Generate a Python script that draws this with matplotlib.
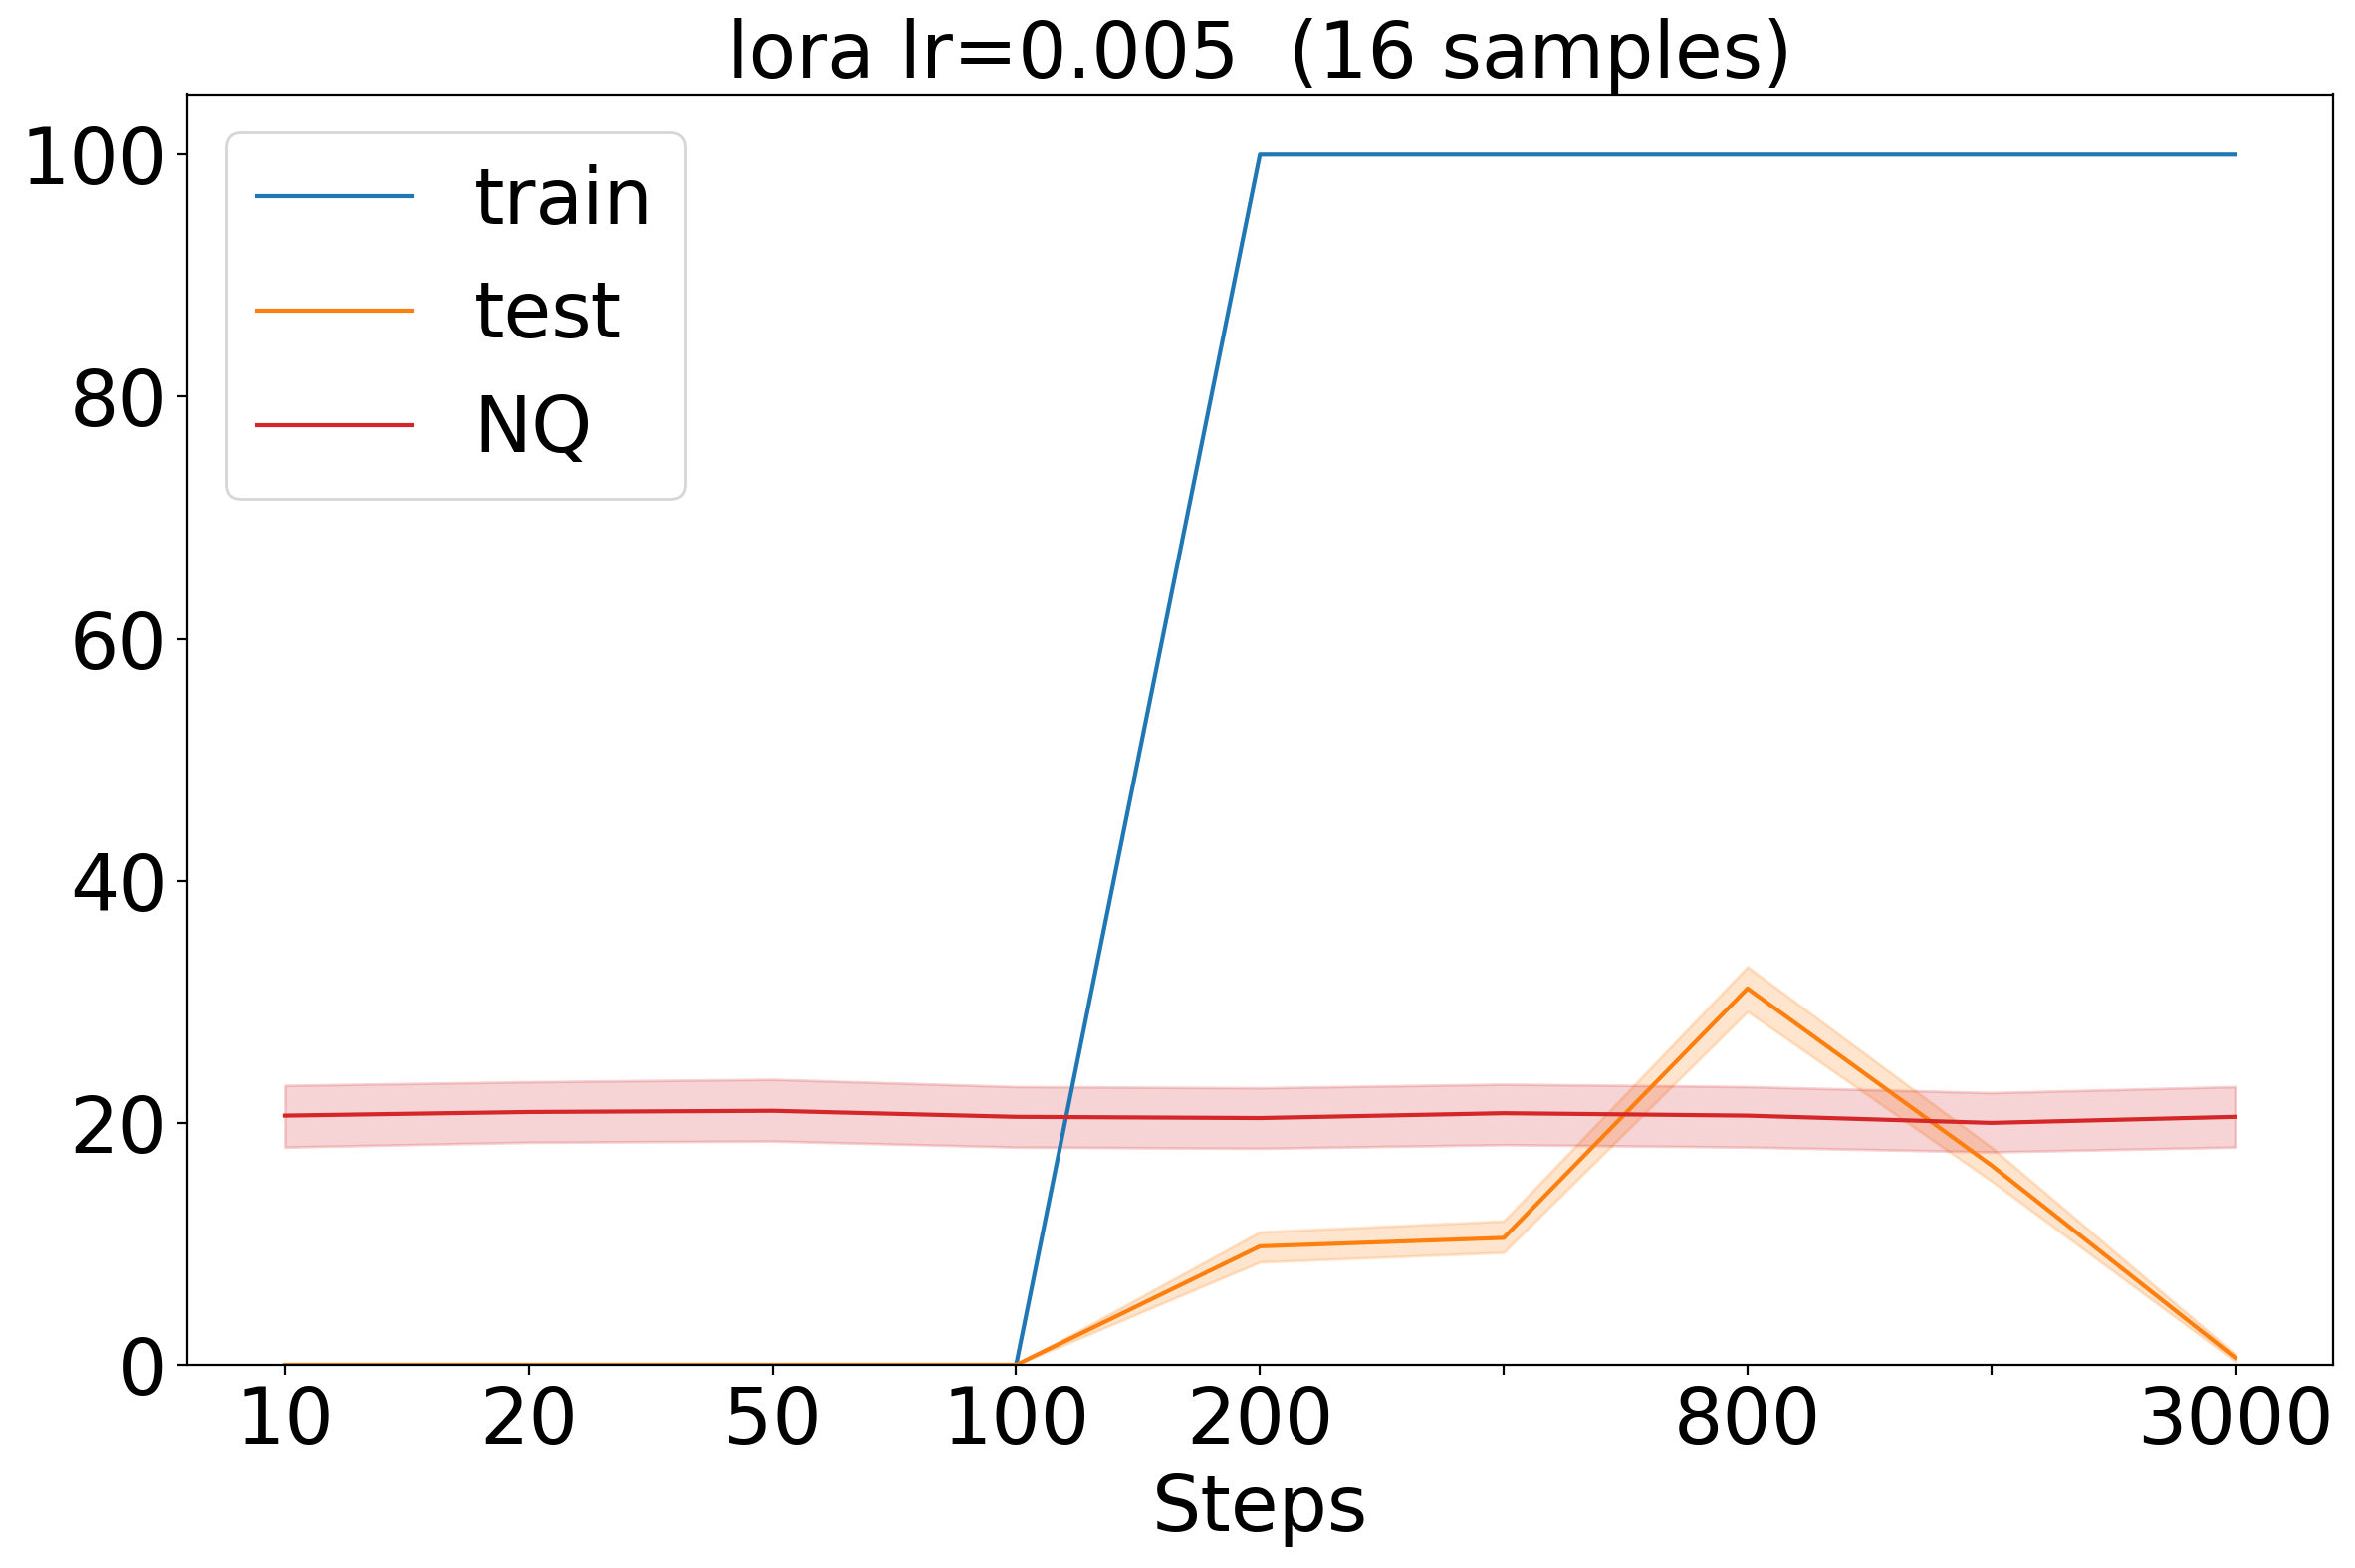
import matplotlib
matplotlib.use("Agg")
import matplotlib.pyplot as plt
import numpy as np

steps_labels = ["10", "20", "50", "100", "200", "", "800", "", "3000"]
train_mean = [0, 0, 0, 0, 100, 100, 100, 100, 100]
test_mean = [0, 0, 0, 0, 9.8, 10.5, 31.1, 16.5, 0.6]
test_low = [0, 0, 0, 0, 8.5, 9.3, 29.2, 15.2, 0.3]
test_high = [0, 0, 0, 0, 11.0, 11.9, 32.9, 18.0, 0.9]
nq_mean = [20.6, 20.9, 21.0, 20.5, 20.4, 20.8, 20.6, 20.0, 20.5]
nq_low = [18.0, 18.4, 18.5, 18.0, 17.9, 18.2, 18.0, 17.6, 18.0]
nq_high = [23.1, 23.4, 23.6, 23.0, 22.9, 23.2, 23.0, 22.5, 23.0]

fs = 28
fig = plt.figure(figsize=(2365/200, 1575/200), dpi=200)
ax = fig.add_axes([0.0795, 0.1295, 0.911, 0.8105])
x = np.arange(len(steps_labels))

ax.plot(x, train_mean, color="#1f77b4", lw=1.5, label="train")
ax.plot(x, test_mean, color="#ff7f0e", lw=1.5, label="test")
ax.fill_between(x, test_low, test_high, color="#ff7f0e", alpha=0.2)
ax.plot(x, nq_mean, color="#d62728", lw=1.5, label="NQ")
ax.fill_between(x, nq_low, nq_high, color="#d62728", alpha=0.2)

ax.set_xticks(x)
ax.set_xticklabels(steps_labels)
ax.set_ylim(0, 105)
ax.tick_params(labelsize=fs)
ax.set_xlabel("Steps", fontsize=fs)
ax.set_title("lora lr=0.005  (16 samples)", fontsize=fs)
ax.legend(loc="upper left", fontsize=fs)

fig.savefig("out.png", dpi=200)
